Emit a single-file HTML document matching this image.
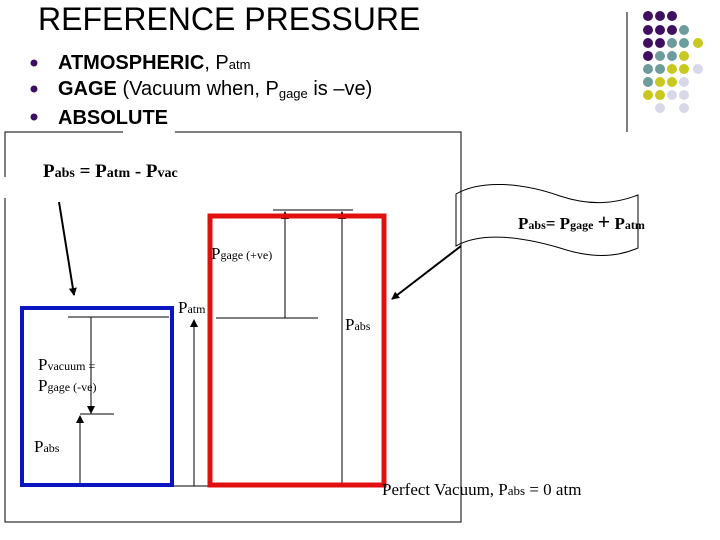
<!DOCTYPE html>
<html><head><style>body{margin:0;background:#fff}svg{display:block}</style></head>
<body>
<svg width="720" height="540" xmlns="http://www.w3.org/2000/svg">
<defs><marker id="a" markerWidth="8" markerHeight="8" refX="7" refY="4" orient="auto" markerUnits="userSpaceOnUse"><path d="M0,0 L8,4 L0,8z" fill="#000"/></marker></defs>
<g font-family="Liberation Sans, sans-serif">
<text x="38" y="30" font-size="32">REFERENCE PRESSURE</text>
<circle cx="34" cy="63" r="3.5" fill="#3a1060"/><circle cx="34" cy="89" r="3.5" fill="#3a1060"/><circle cx="34" cy="117" r="3.5" fill="#3a1060"/>
<text x="58" y="69" font-size="20"><tspan font-weight="bold">ATMOSPHERIC</tspan>, P<tspan font-size="13">atm</tspan></text>
<text x="58" y="95" font-size="20"><tspan font-weight="bold">GAGE</tspan> (Vacuum when, P<tspan font-size="13" dy="3">gage</tspan><tspan dy="-3"> is –ve)</tspan></text>
<text x="58" y="124" font-size="20" font-weight="bold">ABSOLUTE</text>
</g>
<line x1="627" y1="12" x2="627" y2="132" stroke="#000"/>
<g>
<circle cx="648" cy="16" r="5" fill="#3f1060"/><circle cx="660" cy="16" r="5" fill="#3f1060"/><circle cx="672" cy="16" r="5" fill="#3f1060"/>
<circle cx="648" cy="30" r="5" fill="#3f1060"/><circle cx="660" cy="30" r="5" fill="#3f1060"/><circle cx="672" cy="30" r="5" fill="#3f1060"/><circle cx="684" cy="30" r="5" fill="#6c9c9c"/>
<circle cx="648" cy="43" r="5" fill="#3f1060"/><circle cx="660" cy="43" r="5" fill="#3f1060"/><circle cx="672" cy="43" r="5" fill="#6c9c9c"/><circle cx="684" cy="43" r="5" fill="#6c9c9c"/><circle cx="698" cy="43" r="5" fill="#c8c81e"/>
<circle cx="648" cy="56" r="5" fill="#3f1060"/><circle cx="660" cy="56" r="5" fill="#6c9c9c"/><circle cx="672" cy="56" r="5" fill="#6c9c9c"/><circle cx="684" cy="56" r="5" fill="#c8c81e"/>
<circle cx="648" cy="69" r="5" fill="#6c9c9c"/><circle cx="660" cy="69" r="5" fill="#6c9c9c"/><circle cx="672" cy="69" r="5" fill="#c8c81e"/><circle cx="684" cy="69" r="5" fill="#c8c81e"/><circle cx="698" cy="69" r="5" fill="#d8d8ea"/>
<circle cx="648" cy="82" r="5" fill="#6c9c9c"/><circle cx="660" cy="82" r="5" fill="#c8c81e"/><circle cx="672" cy="82" r="5" fill="#c8c81e"/><circle cx="684" cy="82" r="5" fill="#d8d8ea"/>
<circle cx="648" cy="95" r="5" fill="#c8c81e"/><circle cx="660" cy="95" r="5" fill="#c8c81e"/><circle cx="672" cy="95" r="5" fill="#d8d8ea"/><circle cx="684" cy="95" r="5" fill="#d8d8ea"/>
<circle cx="660" cy="108" r="5" fill="#d8d8ea"/><circle cx="684" cy="108" r="5" fill="#d8d8ea"/>
</g>
<g stroke="#000" fill="none">
<path d="M123,132 H5 V177 M5,198 V522 H461 V132 H175"/>
<line x1="273" y1="210" x2="353" y2="210"/>
<line x1="285" y1="318" x2="285" y2="212" marker-end="url(#a)"/>
<line x1="342" y1="486" x2="342" y2="212" marker-end="url(#a)"/>
<line x1="216" y1="318" x2="318" y2="318"/>
<line x1="68" y1="317" x2="169" y2="317"/>
<line x1="91" y1="317" x2="91" y2="413" marker-end="url(#a)"/>
<line x1="80" y1="414" x2="114" y2="414"/>
<line x1="80" y1="486" x2="80" y2="416" marker-end="url(#a)"/>
<line x1="68" y1="486" x2="375" y2="486"/>
<line x1="194" y1="486" x2="194" y2="320" marker-end="url(#a)"/>
<line x1="59" y1="202" x2="74" y2="295" stroke-width="2" marker-end="url(#a)"/>
<line x1="461" y1="246" x2="392" y2="299" stroke-width="2" marker-end="url(#a)"/>
<path d="M456,194 C480,180 520,182 560,196 C590,206 615,204 638,195 V248 C615,258 590,258 560,248 C520,236 480,232 456,246 Z"/>
</g>
<rect x="22" y="308" width="150" height="177" fill="none" stroke="#0a14c0" stroke-width="4"/>
<rect x="210" y="216" width="174" height="269" fill="none" stroke="#e01010" stroke-width="5"/>
<g font-family="Liberation Serif, serif" font-size="17">
<text x="43" y="177" font-weight="bold" font-size="19">P<tspan font-size="14">abs</tspan> = P<tspan font-size="14">atm</tspan> - P<tspan font-size="14">vac</tspan></text>
<text x="518" y="229" font-weight="bold" font-size="17">P<tspan font-size="12">abs</tspan>= P<tspan font-size="12">gage</tspan> <tspan font-size="22">+</tspan> P<tspan font-size="12">atm</tspan></text>
<text x="211" y="259">P<tspan font-size="12">gage (+ve)</tspan></text>
<text x="178" y="313">P<tspan font-size="12">atm</tspan></text>
<text x="345" y="330">P<tspan font-size="12">abs</tspan></text>
<text x="38" y="370">P<tspan font-size="12">vacuum =</tspan></text>
<text x="38" y="391">P<tspan font-size="12">gage (-ve)</tspan></text>
<text x="34" y="452">P<tspan font-size="12">abs</tspan></text>
<text x="382" y="495" font-size="17">Perfect Vacuum, P<tspan font-size="13">abs</tspan> = 0 atm</text>
</g>
</svg>
</body></html>
